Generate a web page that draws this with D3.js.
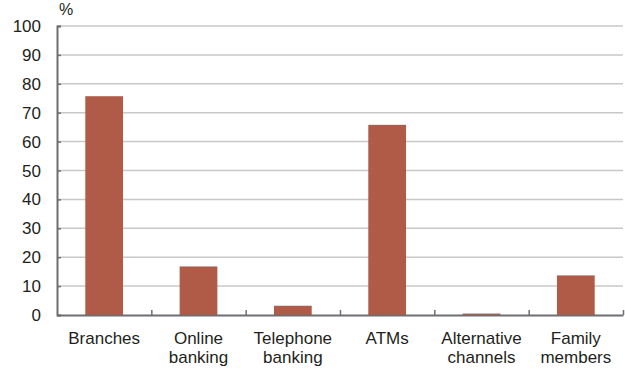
<!DOCTYPE html>
<html>
<head>
<meta charset="utf-8">
<script src="https://cdn.jsdelivr.net/npm/d3@7"></script>
<style>
  body { margin: 0; background: #fff; }
  text { font-family: "Liberation Sans", Arial, Helvetica, sans-serif; fill: #231f20; }
</style>
</head>
<body>
<svg id="chart" width="625" height="369"></svg>
<script>
// Channels used for banking, share of respondents (%)
const categories = [["Branches"], ["Online", "banking"], ["Telephone", "banking"], ["ATMs"], ["Alternative", "channels"], ["Family", "members"]];
const values = [75.7, 16.8, 3.2, 65.8, 0.5, 13.7];
const yTicks = [0, 10, 20, 30, 40, 50, 60, 70, 80, 90, 100];

const svg = d3.select("#chart");
const plotLeft = 57, plotRight = 623, plotTop = 26, plotBottom = 315;

const x = d3.scaleBand().domain(d3.range(categories.length)).range([plotLeft, plotRight]).padding(0);
const y = d3.scaleLinear().domain([0, 100]).range([plotBottom, plotTop]);

// gridlines
svg.append("g").selectAll("line").data(yTicks.filter(d => d > 0)).join("line")
  .attr("x1", plotLeft).attr("x2", plotRight)
  .attr("y1", d => y(d)).attr("y2", d => y(d))
  .attr("stroke", "#c8c8c8").attr("stroke-width", 1.5);

// bars
const bw = x.bandwidth() * 0.4;
svg.append("g").selectAll("rect").data(values).join("rect")
  .attr("x", (d, i) => x(i) + (x.bandwidth() - bw) / 2)
  .attr("width", bw)
  .attr("y", d => y(d))
  .attr("height", d => y(0) - y(d))
  .attr("fill", "#b05a48");

// y axis
const yAxis = svg.append("g").attr("transform", `translate(${plotLeft},0)`)
  .call(d3.axisRight(y).tickValues(yTicks).tickSize(4).tickFormat(""));
yAxis.select(".domain").attr("stroke", "#6d6e71").attr("stroke-width", 2);
yAxis.selectAll(".tick line").attr("stroke", "#6d6e71").attr("stroke-width", 1.5);
svg.append("g").selectAll("text").data(yTicks).join("text")
  .attr("x", 41).attr("y", d => y(d) + 6)
  .attr("text-anchor", "end").attr("font-size", "17px")
  .text(d => d);

// x axis
const xb = d3.scaleLinear().domain([0, categories.length]).range([plotLeft, plotRight]);
const xAxis = svg.append("g").attr("transform", `translate(0,${plotBottom})`)
  .call(d3.axisTop(xb).tickValues(d3.range(1, categories.length + 1)).tickSize(5).tickSizeOuter(0).tickFormat(""));
xAxis.select(".domain").attr("stroke", "#6d6e71").attr("stroke-width", 2);
xAxis.selectAll(".tick line").attr("stroke", "#6d6e71").attr("stroke-width", 1.5);

// category labels
const lab = svg.append("g").selectAll("text").data(categories).join("text")
  .attr("text-anchor", "middle").attr("font-size", "17px")
  .attr("transform", (d, i) => `translate(${x(i) + x.bandwidth() / 2},344)`);
lab.selectAll("tspan").data(d => d).join("tspan")
  .attr("x", 0).attr("dy", (d, i) => i === 0 ? 0 : 18.5)
  .text(d => d);

// unit label
svg.append("text").attr("x", 59).attr("y", 15).attr("font-size", "16px").text("%");
</script>
</body>
</html>
